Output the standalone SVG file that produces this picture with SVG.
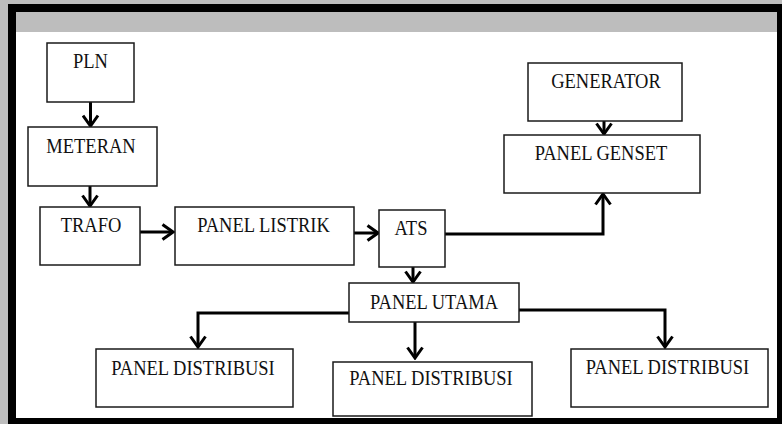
<svg xmlns="http://www.w3.org/2000/svg" width="782" height="424" viewBox="0 0 782 424">
<style>
.box{fill:#fff;stroke:#1a1a1a;stroke-width:1.5}
.lbl{font-family:'Liberation Serif','Times New Roman','DejaVu Serif',serif;font-size:18.5px;fill:#111;text-anchor:middle}
.con{fill:none;stroke:#000;stroke-width:3}
</style>
<defs>
<marker id="ah" markerUnits="userSpaceOnUse" markerWidth="14" markerHeight="18" viewBox="0 0 14 18" refX="12" refY="9" orient="auto">
<path d="M1.5,1.5 L12,9 L1.5,16.5" fill="none" stroke="#000" stroke-width="3"/>
</marker>
</defs>
<rect x="0" y="0" width="782" height="424" fill="#bdbdbd"/>
<rect x="8" y="4" width="774" height="420" fill="#000"/>
<rect x="16" y="12" width="761" height="406" fill="#fff"/>
<rect x="16" y="12" width="761" height="20" fill="#bdbdbd"/>
<g id="connectors">
<path class="con" d="M90.5,102 V126" marker-end="url(#ah)"/>
<path class="con" d="M90,186 V206" marker-end="url(#ah)"/>
<path class="con" d="M140,232 H173" marker-end="url(#ah)"/>
<path class="con" d="M354,233 H378" marker-end="url(#ah)"/>
<path class="con" d="M445,234 H603 V194" marker-end="url(#ah)"/>
<path class="con" d="M604,121 V134" marker-end="url(#ah)"/>
<path class="con" d="M413,267 V282" marker-end="url(#ah)"/>
<path class="con" d="M349,313 H198 V347" marker-end="url(#ah)"/>
<path class="con" d="M415,322 V358" marker-end="url(#ah)"/>
<path class="con" d="M519,310 H665 V347" marker-end="url(#ah)"/>
</g>
<g id="pln"><rect class="box" x="47" y="43" width="87" height="59"/><text class="lbl" font-family="Liberation Serif, serif" transform="translate(90.5 68) scale(1 1.15)">PLN</text></g>
<g id="meteran"><rect class="box" x="28" y="127" width="129" height="59"/><text class="lbl" transform="translate(91 153) scale(1 1.15)">METERAN</text></g>
<g id="trafo"><rect class="box" x="40" y="207" width="100" height="58"/><text class="lbl" transform="translate(91 232) scale(1 1.15)">TRAFO</text></g>
<g id="panel-listrik"><rect class="box" x="175" y="207" width="179" height="58"/><text class="lbl" transform="translate(263.5 232) scale(1 1.15)">PANEL LISTRIK</text></g>
<g id="ats"><rect class="box" x="379" y="210" width="66" height="57"/><text class="lbl" transform="translate(411 235) scale(1 1.15)">ATS</text></g>
<g id="generator"><rect class="box" x="528" y="63" width="154" height="58"/><text class="lbl" transform="translate(606 88) scale(1 1.15)">GENERATOR</text></g>
<g id="panel-genset"><rect class="box" x="504" y="135" width="196" height="58"/><text class="lbl" transform="translate(601 160) scale(1 1.15)">PANEL GENSET</text></g>
<g id="panel-utama"><rect class="box" x="349" y="283" width="170" height="39"/><text class="lbl" transform="translate(434 309) scale(1 1.15)">PANEL UTAMA</text></g>
<g id="panel-distribusi-1"><rect class="box" x="96" y="349" width="197" height="58"/><text class="lbl" transform="translate(193 375) scale(1 1.15)">PANEL DISTRIBUSI</text></g>
<g id="panel-distribusi-2"><rect class="box" x="333" y="362" width="199" height="54"/><text class="lbl" transform="translate(431 385) scale(1 1.15)">PANEL DISTRIBUSI</text></g>
<g id="panel-distribusi-3"><rect class="box" x="571" y="349" width="197" height="58"/><text class="lbl" transform="translate(667.5 374) scale(1 1.15)">PANEL DISTRIBUSI</text></g>
</svg>
